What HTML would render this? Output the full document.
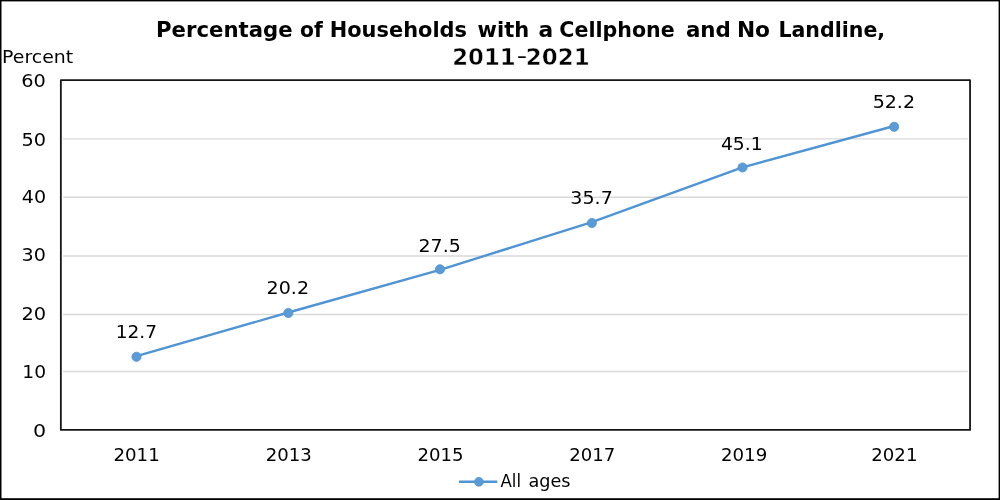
<!DOCTYPE html>
<html lang="en">
<head>
<meta charset="utf-8">
<title>Percentage of Households with a Cellphone and No Landline, 2011-2021</title>
<style>
html,body{margin:0;padding:0;background:#fff;}
body{width:1000px;height:500px;overflow:hidden;}
svg{display:block;}
text{font-family:"DejaVu Sans", "Liberation Sans", sans-serif;fill:#000;}
.t{font-weight:bold;font-size:21.9px;}
.l{font-size:18.4px;}
.h{font-size:21.9px;font-weight:normal;stroke:none;}
.p{font-size:17.2px;}
.d{font-weight:bold;font-size:23.6px;stroke:#fff;stroke-width:0.5px;}
.g{font-size:18.2px;}
</style>
</head>
<body>
<svg width="1000" height="500" viewBox="0 0 1000 500">
<rect x="0" y="0" width="1000" height="500" fill="#fff"/>
<rect x="0" y="0" width="1000" height="1.4" fill="#000"/>
<rect x="0" y="498.2" width="1000" height="1.8" fill="#000"/>
<rect x="0" y="0" width="1.5" height="500" fill="#000"/>
<rect x="998.6" y="0" width="1.4" height="500" fill="#000"/>
<line x1="63.1" y1="138.90" x2="967.8" y2="138.90" stroke="#d9d9d9" stroke-width="1.4"/>
<line x1="63.1" y1="197.25" x2="967.8" y2="197.25" stroke="#d9d9d9" stroke-width="1.4"/>
<line x1="63.1" y1="256.00" x2="967.8" y2="256.00" stroke="#d9d9d9" stroke-width="1.4"/>
<line x1="63.1" y1="314.50" x2="967.8" y2="314.50" stroke="#d9d9d9" stroke-width="1.4"/>
<line x1="63.1" y1="371.50" x2="967.8" y2="371.50" stroke="#d9d9d9" stroke-width="1.4"/>
<rect x="60.85" y="80.20" width="909.20" height="349.70" fill="none" stroke="#161616" stroke-width="1.8" stroke-linejoin="round"/>
<!-- chart title -->
<text class="t"><tspan x="155.99" y="37.00" textLength="136.62" lengthAdjust="spacingAndGlyphs">Percentage</tspan> <tspan x="300.04" y="37.00" textLength="22.75" lengthAdjust="spacingAndGlyphs">of</tspan> <tspan x="329.76" y="37.00" textLength="137.26" lengthAdjust="spacingAndGlyphs">Households</tspan> <tspan x="477.59" y="37.00" textLength="51.59" lengthAdjust="spacingAndGlyphs">with</tspan> <tspan x="538.52" y="37.00" textLength="14.69" lengthAdjust="spacingAndGlyphs">a</tspan> <tspan x="559.33" y="37.00" textLength="115.40" lengthAdjust="spacingAndGlyphs">Cellphone</tspan> <tspan x="685.92" y="37.00" textLength="44.95" lengthAdjust="spacingAndGlyphs">and</tspan> <tspan x="736.93" y="37.00" textLength="33.16" lengthAdjust="spacingAndGlyphs">No</tspan> <tspan x="778.39" y="37.00" textLength="106.76" lengthAdjust="spacingAndGlyphs">Landline,</tspan></text>
<text class="d"><tspan x="452.20" y="64.80" textLength="63.48" lengthAdjust="spacingAndGlyphs">2011</tspan><tspan class="h" x="516.75" y="62.60" textLength="10.36" lengthAdjust="spacingAndGlyphs">-</tspan><tspan x="525.86" y="64.80" textLength="63.81" lengthAdjust="spacingAndGlyphs">2021</tspan></text>
<!-- axis title, tick labels, data labels -->
<text class="p" x="2.10" y="62.80" textLength="71.08" lengthAdjust="spacingAndGlyphs">Percent</text>
<text class="l" x="21.15" y="86.70" textLength="24.59" lengthAdjust="spacingAndGlyphs">60</text>
<text class="l" x="21.51" y="145.70" textLength="24.58" lengthAdjust="spacingAndGlyphs">50</text>
<text class="l" x="21.86" y="202.90" textLength="24.25" lengthAdjust="spacingAndGlyphs">40</text>
<text class="l" x="21.56" y="261.30" textLength="24.33" lengthAdjust="spacingAndGlyphs">30</text>
<text class="l" x="21.40" y="319.80" textLength="24.69" lengthAdjust="spacingAndGlyphs">20</text>
<text class="l" x="22.34" y="378.40" textLength="23.75" lengthAdjust="spacingAndGlyphs">10</text>
<text class="l" x="33.04" y="436.80" textLength="13.14" lengthAdjust="spacingAndGlyphs">0</text>
<text class="l" x="113.41" y="461.00" textLength="46.32" lengthAdjust="spacingAndGlyphs">2011</text>
<text class="l" x="265.74" y="461.00" textLength="45.98" lengthAdjust="spacingAndGlyphs">2013</text>
<text class="l" x="417.54" y="461.00" textLength="46.02" lengthAdjust="spacingAndGlyphs">2015</text>
<text class="l" x="569.16" y="461.00" textLength="46.01" lengthAdjust="spacingAndGlyphs">2017</text>
<text class="l" x="720.97" y="461.00" textLength="46.26" lengthAdjust="spacingAndGlyphs">2019</text>
<text class="l" x="871.32" y="461.00" textLength="46.13" lengthAdjust="spacingAndGlyphs">2021</text>
<text class="l" x="115.66" y="337.80" textLength="41.32" lengthAdjust="spacingAndGlyphs">12.7</text>
<text class="l" x="266.62" y="294.00" textLength="42.38" lengthAdjust="spacingAndGlyphs">20.2</text>
<text class="l" x="418.55" y="252.00" textLength="42.16" lengthAdjust="spacingAndGlyphs">27.5</text>
<text class="l" x="570.39" y="204.00" textLength="42.39" lengthAdjust="spacingAndGlyphs">35.7</text>
<text class="l" x="720.98" y="149.80" textLength="41.66" lengthAdjust="spacingAndGlyphs">45.1</text>
<text class="l" x="872.68" y="108.20" textLength="42.30" lengthAdjust="spacingAndGlyphs">52.2</text>
<!-- series: All ages -->
<polyline points="136.5,356.2 288.3,312.5 440.0,269.9 591.9,222.1 742.5,167.4 894.2,126.0" fill="none" stroke="#4f94d4" stroke-width="2.4" stroke-linejoin="round" stroke-linecap="round"/>
<circle cx="136.5" cy="356.8" r="4.6" fill="#5b9bd5" stroke="#4f94d4" stroke-width="0.8"/>
<circle cx="288.3" cy="313.0" r="4.6" fill="#5b9bd5" stroke="#4f94d4" stroke-width="0.8"/>
<circle cx="440.0" cy="269.3" r="4.6" fill="#5b9bd5" stroke="#4f94d4" stroke-width="0.8"/>
<circle cx="591.9" cy="223.0" r="4.6" fill="#5b9bd5" stroke="#4f94d4" stroke-width="0.8"/>
<circle cx="742.5" cy="167.5" r="4.6" fill="#5b9bd5" stroke="#4f94d4" stroke-width="0.8"/>
<circle cx="894.2" cy="126.8" r="4.6" fill="#5b9bd5" stroke="#4f94d4" stroke-width="0.8"/>
<!-- legend -->
<line x1="459" y1="481.8" x2="497.3" y2="481.8" stroke="#4f94d4" stroke-width="2.4"/>
<circle cx="478.9" cy="481.8" r="4.4" fill="#5b9bd5" stroke="#4f94d4" stroke-width="0.8"/>
<text class="g"><tspan x="500.51" y="487.10" textLength="20.56" lengthAdjust="spacingAndGlyphs">All</tspan> <tspan x="528.45" y="487.10" textLength="42.03" lengthAdjust="spacingAndGlyphs">ages</tspan></text>
</svg>
</body>
</html>
